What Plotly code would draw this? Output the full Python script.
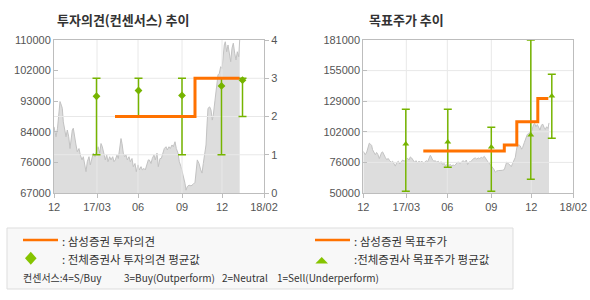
import plotly.graph_objects as go

# ---------------- data ----------------
# x positions are a common time index (0 = Dec-16 start, 210 = Feb-18 end)
x_tick_vals = [0, 43, 84, 128, 168, 210]
x_tick_text = ["12", "17/03", "06", "09", "12", "18/02"]

price_t = [0, 2, 3.5, 5, 6, 7.3, 8.3, 9.3, 10.7, 12,
           13.3, 14.7, 16, 17, 18.3, 19.3, 20.7, 22, 23.3, 25,
           26.3, 28, 29.3, 30.7, 32, 33.3, 35, 36.3, 38, 39.3,
           41, 42.7, 44, 45.7, 47, 48.3, 50, 51.3, 52.7, 54,
           55.7, 57, 58.7, 60, 61.3, 63, 64.3, 65.7, 67, 68,
           69.3, 70.7, 72, 73.3, 75, 76.3, 78, 79.3, 81, 82.3,
           84, 85.3, 87, 88.3, 90, 91.3, 93, 94.3, 95.3, 97,
           98.3, 100, 101.3, 103, 104.3, 106, 107.3, 109, 110.3, 112,
           113.3, 115, 116.3, 118, 119.3, 121, 122.3, 124, 125.3, 127,
           128.3, 129.7, 131, 132, 133.3, 135, 137, 139, 141, 143.3,
           145, 146.7, 148, 149.3, 150.7, 152, 153, 154, 155.7, 157,
           158.3, 159.3, 161, 162.7, 164, 165.3, 166.7, 168, 169, 170.3,
           171.3, 172.7, 174, 175.3, 176.7, 178, 179.3, 180.7, 182, 183.3,
           184.7, 185.7]
price_v = [85600, 82800, 85200, 88900, 92700, 91700, 90800, 87000, 84200, 82800,
           84700, 82800, 79500, 82300, 84700, 85200, 82300, 80500, 78600, 79500,
           77700, 76300, 77200, 75300, 73000, 75800, 77200, 74900, 76700, 78200,
           77200, 78600, 80000, 78200, 80900, 80000, 78200, 76300, 77700, 75800,
           77200, 76300, 77200, 75800, 76300, 77700, 76700, 79500, 82300, 80900,
           78200, 77200, 77700, 76300, 77200, 75800, 76700, 74400, 75300, 73000,
           74900, 73500, 74400, 73500, 73900, 73500, 75300, 76300, 76300, 75300,
           76700, 77700, 76300, 78200, 74400, 76700, 76700, 78200, 79500, 80000,
           79100, 80000, 79500, 80500, 80000, 81400, 79500, 78200, 75800, 74400,
           73000, 71600, 69700, 67800, 68800, 69200, 69000, 69400, 70000, 76300,
           75300, 73500, 72600, 75300, 77700, 80500, 86100, 90800, 91200, 90300,
           87500, 88900, 93100, 96400, 100200, 100600, 102500, 102000, 105800, 108600,
           109500, 106700, 108600, 105800, 103900, 107700, 109100, 106300, 104400, 106700,
           105300, 110000]

# consensus (all brokers) positions
cons_t = [42.5, 84.5, 128, 167.5, 188.5]
op_avg = [2.53, 2.68, 2.55, 2.8, 2.95]
op_min = [1, 2, 1, 1, 2]
op_max = [3, 3, 3, 3, 3]
tp_avg = [92000, 93700, 89400, 99700, 133000]
tp_min = [51500, 72000, 51500, 61700, 96800]
tp_max = [121700, 121700, 106300, 181000, 151600]

# Samsung Securities own opinion / target price (step lines)
ss_op_t = [61, 141, 185.5]
ss_op_v = [2, 3, 3]
ss_tp_t = [60, 141, 153.5, 174.5, 185]
ss_tp_v = [86000, 91000, 111000, 131000, 131000]

# axes
y1_range = [67000, 110000]
y1_tick_vals = [67000, 75600, 84200, 92800, 101400, 110000]
y1_tick_text = ["67000", "76000", "84000", "93000", "102000", "110000"]
op_range = [0, 4]
op_ticks = [0, 1, 2, 3, 4]
y2_range = [50000, 181000]
y2_tick_vals = [50000, 76200, 102400, 128600, 154800, 181000]
y2_tick_text = ["50000", "76000", "102000", "129000", "155000", "181000"]

# ---------------- style ----------------
W, H = 590, 300
ORANGE = "#ff7200"
GREEN = "#76b400"
LGREEN = "#86c400"
GRID = "#e8e8e8"
AXIS = "#bdbdbd"
FILL = "#dddddd"
PLINE = "#c2c2c2"
TXT = "#555555"
FONT = "Noto Sans CJK KR"
TICKFONT = dict(family="Liberation Sans", size=11, color=TXT)


def px(xp):
    return xp / W


def py(yp):
    return 1 - yp / H


fig = go.Figure()


def grid_xy(vals, lo, hi, vertical):
    xs, ys = [], []
    for v in vals:
        if vertical:
            xs += [v, v, None]
            ys += [lo, hi, None]
        else:
            xs += [lo, hi, None]
            ys += [v, v, None]
    return xs, ys


# ---- left chart: price area
fig.add_trace(go.Scatter(x=price_t, y=price_v, mode="lines", fill="tozeroy",
                         fillcolor=FILL, line=dict(color=PLINE, width=1),
                         xaxis="x", yaxis="y", hoverinfo="skip"))
gx, gy = grid_xy(x_tick_vals[1:-1], y1_range[0], y1_range[1], True)
fig.add_trace(go.Scatter(x=gx, y=gy, mode="lines", line=dict(color=GRID, width=1),
                         xaxis="x", yaxis="y", hoverinfo="skip"))
# horizontal grid on opinion axis
gx, gy = grid_xy(op_ticks[1:-1], x_tick_vals[0], x_tick_vals[-1], False)
fig.add_trace(go.Scatter(x=gx, y=gy, mode="lines", line=dict(color=GRID, width=1),
                         xaxis="x", yaxis="y3", hoverinfo="skip"))
fig.add_trace(go.Scatter(
    x=cons_t, y=op_avg, mode="markers",
    marker=dict(symbol="diamond", size=6, color=GREEN),
    error_y=dict(type="data", symmetric=False,
                 array=[a - b for a, b in zip(op_max, op_avg)],
                 arrayminus=[a - b for a, b in zip(op_avg, op_min)],
                 color=GREEN, thickness=1.5, width=4),
    xaxis="x", yaxis="y3", hoverinfo="skip"))
fig.add_trace(go.Scatter(x=ss_op_t, y=ss_op_v, mode="lines", line_shape="hv",
                         line=dict(color=ORANGE, width=3),
                         xaxis="x", yaxis="y3", hoverinfo="skip"))

# ---- right chart
fig.add_trace(go.Scatter(x=price_t, y=price_v, mode="lines", fill="tozeroy",
                         fillcolor=FILL, line=dict(color=PLINE, width=1),
                         xaxis="x2", yaxis="y2", hoverinfo="skip"))
gx, gy = grid_xy(x_tick_vals[1:-1], y2_range[0], y2_range[1], True)
gx2, gy2 = grid_xy(y2_tick_vals[1:-1], x_tick_vals[0], x_tick_vals[-1], False)
fig.add_trace(go.Scatter(x=gx + gx2, y=gy + gy2, mode="lines",
                         line=dict(color=GRID, width=1),
                         xaxis="x2", yaxis="y2", hoverinfo="skip"))
fig.add_trace(go.Scatter(
    x=cons_t, y=tp_avg, mode="markers",
    marker=dict(symbol="triangle-up", size=6, color=GREEN),
    error_y=dict(type="data", symmetric=False,
                 array=[a - b for a, b in zip(tp_max, tp_avg)],
                 arrayminus=[a - b for a, b in zip(tp_avg, tp_min)],
                 color=GREEN, thickness=1.5, width=4),
    xaxis="x2", yaxis="y2", hoverinfo="skip"))
fig.add_trace(go.Scatter(x=ss_tp_t, y=ss_tp_v, mode="lines", line_shape="hv",
                         line=dict(color=ORANGE, width=3),
                         xaxis="x2", yaxis="y2", hoverinfo="skip"))

ydom = [py(193), py(40)]
xcommon = dict(range=[x_tick_vals[0], x_tick_vals[-1]], tickvals=x_tick_vals,
               ticktext=x_tick_text, showgrid=False, zeroline=False,
               showline=True, linecolor=AXIS, linewidth=1, mirror=True,
               ticks="outside", ticklen=4, tickcolor=AXIS, tickfont=TICKFONT,
               automargin=False)

fig.update_layout(
    template="none",
    width=W, height=H, margin=dict(l=0, r=0, t=0, b=0, pad=0, autoexpand=False),
    paper_bgcolor="white", plot_bgcolor="white", showlegend=False,
    xaxis=dict(domain=[px(54), px(264)], anchor="y", **xcommon),
    yaxis=dict(domain=ydom, range=y1_range, tickvals=y1_tick_vals,
               ticktext=y1_tick_text, showgrid=False, zeroline=False,
               showline=True, linecolor=AXIS, linewidth=1,
               ticks="inside", ticklen=4, tickcolor=AXIS, tickfont=TICKFONT,
               anchor="x", automargin=False),
    yaxis3=dict(overlaying="y", side="right", anchor="x", range=op_range,
                tickvals=op_ticks, showgrid=False, zeroline=False,
                showline=True, linecolor=AXIS, linewidth=1,
                ticks="outside", ticklen=4, tickcolor=AXIS, tickfont=TICKFONT,
                automargin=False),
    xaxis2=dict(domain=[px(363.3), px(573.3)], anchor="y2", **xcommon),
    yaxis2=dict(domain=ydom, range=y2_range, tickvals=y2_tick_vals,
                ticktext=y2_tick_text, showgrid=False, zeroline=False,
                showline=True, linecolor=AXIS, linewidth=1, mirror=True,
                ticks="inside", ticklen=4, tickcolor=AXIS, tickfont=TICKFONT,
                anchor="x2", automargin=False),
)

# titles
fig.add_annotation(text="<b>투자의견(컨센서스) 추이</b>", x=px(55), y=py(20),
                   xref="paper", yref="paper", xanchor="left", yanchor="middle",
                   showarrow=False, font=dict(family=FONT, size=13, color="#333333"))
fig.add_annotation(text="<b>목표주가 추이</b>", x=px(367), y=py(20),
                   xref="paper", yref="paper", xanchor="left", yanchor="middle",
                   showarrow=False, font=dict(family=FONT, size=13, color="#333333"))

# legend box
shapes = [
    dict(type="rect", xref="paper", yref="paper", x0=px(7), x1=px(513),
         y0=py(289), y1=py(228), fillcolor="#f8f8f8",
         line=dict(color="#dddddd", width=1), layer="below"),
    dict(type="line", xref="paper", yref="paper", x0=px(23), x1=px(58),
         y0=py(240), y1=py(240), line=dict(color=ORANGE, width=2.5)),
    dict(type="line", xref="paper", yref="paper", x0=px(315), x1=px(350),
         y0=py(240), y1=py(240), line=dict(color=ORANGE, width=2.5)),
    dict(type="path", xref="paper", yref="paper",
         path=f"M {px(30.8)} {py(251.8)} L {px(36.6)} {py(258.3)} L {px(30.8)} {py(264.8)} L {px(25)} {py(258.3)} Z",
         fillcolor=LGREEN, line=dict(width=0)),
    dict(type="path", xref="paper", yref="paper",
         path=f"M {px(321.7)} {py(257)} L {px(328)} {py(263.5)} L {px(315.4)} {py(263.5)} Z",
         fillcolor=LGREEN, line=dict(width=0)),
]
fig.update_layout(shapes=shapes)

LEGFONT = dict(family=FONT, size=11.5, color="#333333")
SMALLFONT = dict(family=FONT, size=10, color="#333333")
legend_texts = [
    (": 삼성증권 투자의견", 60, 240.5, LEGFONT),
    (": 전체증권사 투자의견 평균값", 60, 259, LEGFONT),
    (": 삼성증권 목표주가", 352, 240.5, LEGFONT),
    (":전체증권사 목표주가 평균값", 352, 259, LEGFONT),
    ("컨센서스:4=S/Buy", 20.5, 277.5, SMALLFONT),
    ("3=Buy(Outperform)", 121.5, 277.5, SMALLFONT),
    ("2=Neutral", 220, 277.5, SMALLFONT),
    ("1=Sell(Underperform)", 275, 277.5, SMALLFONT),
]
for t, xx, yy, ft in legend_texts:
    fig.add_annotation(text=t, x=px(xx), y=py(yy), xref="paper", yref="paper",
                       xanchor="left", yanchor="middle", showarrow=False,
                       font=ft)

fig.write_html("out.html")
